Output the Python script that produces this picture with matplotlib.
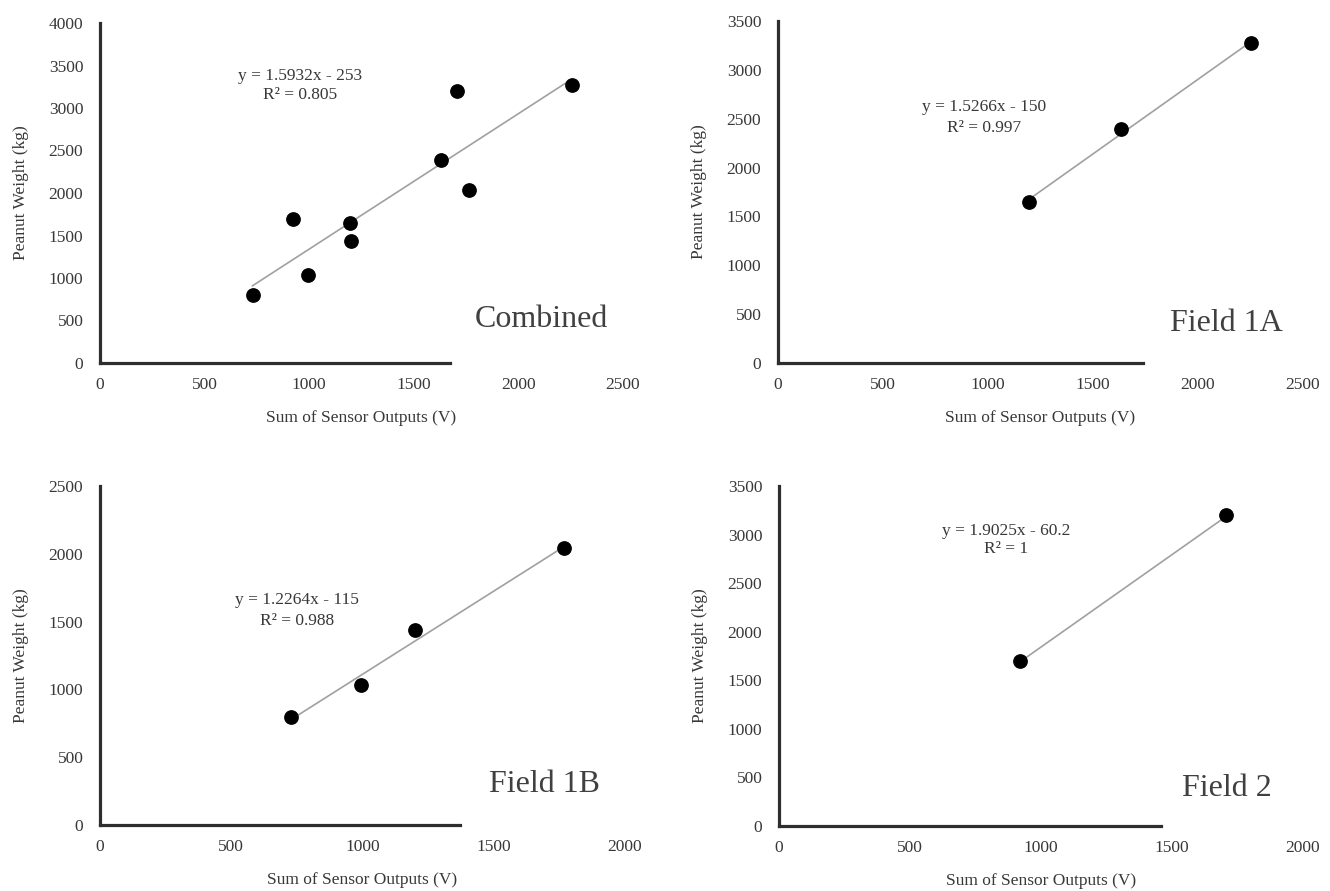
import matplotlib
matplotlib.use("Agg")
import matplotlib.pyplot as plt
import numpy as np

# ---------------- data ----------------
combined_x = [729, 921, 995, 1195, 1201, 1632, 1706, 1766, 2254]
combined_y = [796, 1698, 1031, 1651, 1435, 2392, 3205, 2040, 3272]

field1a_x = [1195, 1632, 2254]
field1a_y = [1651, 2392, 3272]

field1b_x = [729, 995, 1201, 1766]
field1b_y = [796, 1031, 1435, 2040]

field2_x = [921, 1706]
field2_y = [1698, 3205]

panel_names = ["Combined", "Field 1A", "Field 1B", "Field 2"]
slopes = [1.5932, 1.5266, 1.2264, 1.9025]
intercepts = [-253, -150, -115, -60.2]
equations = ["y = 1.5932x - 253", "y = 1.5266x - 150", "y = 1.2264x - 115", "y = 1.9025x - 60.2"]
r2_labels = ["R² = 0.805", "R² = 0.997", "R² = 0.988", "R² = 1"]

x_ticks = [[0, 500, 1000, 1500, 2000, 2500],
           [0, 500, 1000, 1500, 2000, 2500],
           [0, 500, 1000, 1500, 2000],
           [0, 500, 1000, 1500, 2000]]
y_ticks = [[0, 500, 1000, 1500, 2000, 2500, 3000, 3500, 4000],
           [0, 500, 1000, 1500, 2000, 2500, 3000, 3500],
           [0, 500, 1000, 1500, 2000, 2500],
           [0, 500, 1000, 1500, 2000, 2500, 3000, 3500]]

x_label = "Sum of Sensor Outputs (V)"
y_label = "Peanut Weight (kg)"

# ---------------- layout / style ----------------
W, H = 1330, 891
fig = plt.figure(figsize=(W / 100, H / 100), dpi=100)
plt.rcParams['font.family'] = ['Liberation Serif', 'DejaVu Serif']

# axes rectangles in pixels: left, right(x max), bottom, top(y max)
rects_px = [(100, 623, 363, 23), (778, 1303, 363, 21),
            (100, 625, 825, 486), (779, 1303, 826, 486)]
spine_x_end = [1671, 1738, 1371, 1459]
# equation positions (data coords, centre of each line)
eq_pos = [(956, 3376, 3153), (981, 2620, 2405), (750, 1659, 1504), (866, 3037, 2851)]
name_pos = [(2110, 517), (2133, 409), (1695, 295), (1708, 391)]

datasets = [(combined_x, combined_y), (field1a_x, field1a_y),
            (field1b_x, field1b_y), (field2_x, field2_y)]

text_col = "#383838"
spine_col = "#2e2e2e"

for i in range(4):
    l, r, b, t = rects_px[i]
    ax = fig.add_axes([l / W, (H - b) / H, (r - l) / W, (b - t) / H])
    xs, ys = datasets[i]
    ax.set_xlim(0, x_ticks[i][-1])
    ax.set_ylim(0, y_ticks[i][-1])
    ax.set_xticks(x_ticks[i])
    ax.set_yticks(y_ticks[i])
    ax.tick_params(length=0, labelsize=12.5, labelcolor=text_col)
    ax.tick_params(axis='y', pad=12)
    ax.tick_params(axis='x', pad=10)
    for s in ["top", "right"]:
        ax.spines[s].set_visible(False)
    for s in ["left", "bottom"]:
        ax.spines[s].set_linewidth(2.3)
        ax.spines[s].set_color(spine_col)
    ax.spines["bottom"].set_bounds(0, spine_x_end[i])
    ax.spines["left"].set_bounds(0, y_ticks[i][-1])
    ax.patch.set_alpha(0)

    # trend line
    xl = np.array([min(xs), max(xs)], dtype=float)
    ax.plot(xl, slopes[i] * xl + intercepts[i], color="#a0a0a0", lw=1.2, zorder=2)
    ax.plot(xs, ys, 'o', color="black", markersize=9.6, zorder=3, clip_on=False)

    ex, ey1, ey2 = eq_pos[i]
    ax.text(ex, ey1, equations[i], ha="center", va="center", fontsize=12.5, color=text_col)
    ax.text(ex, ey2, r2_labels[i], ha="center", va="center", fontsize=12.5, color=text_col)

    nx, ny = name_pos[i]
    ax.text(nx, ny, panel_names[i], ha="center", va="center", fontsize=23, color="#404040")

    ax.set_xlabel(x_label, fontsize=12.5, color=text_col, labelpad=12)
    ax.set_ylabel(y_label, fontsize=12.5, color=text_col, labelpad=14)

fig.savefig("out.png", dpi=100)
